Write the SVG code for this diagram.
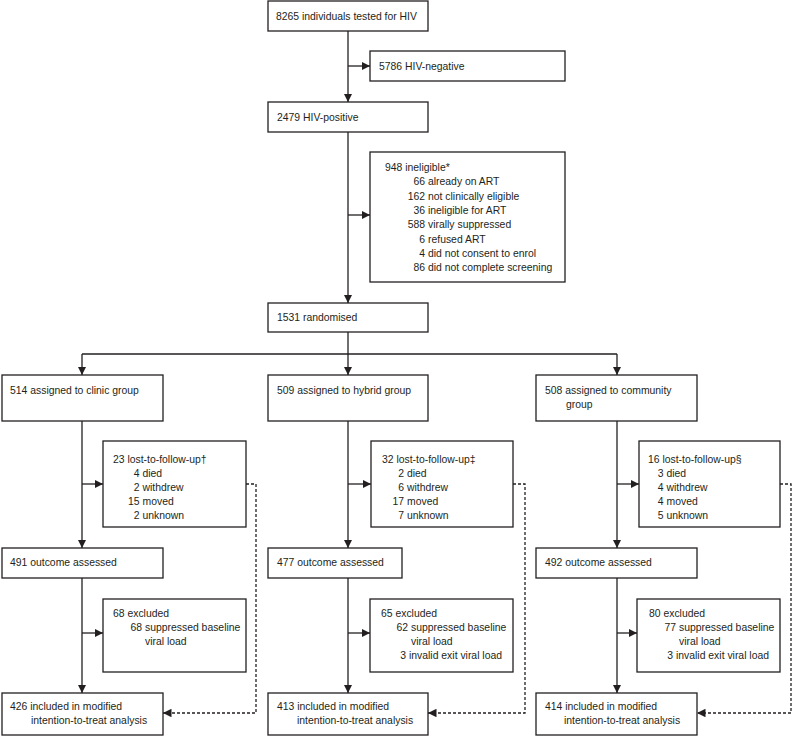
<svg xmlns="http://www.w3.org/2000/svg" width="793" height="737" viewBox="0 0 793 737">
<style>
.b{fill:#fff;stroke:#231f20;stroke-width:1.3}
.t{font-family:"Liberation Sans",Arial,sans-serif;font-size:10.4px;fill:#231f20}
.e{text-anchor:end}
.c{fill:none;stroke:#231f20;stroke-width:1.3}
.d{fill:none;stroke:#231f20;stroke-width:1.3;stroke-dasharray:3 2}
</style>
<defs>
<marker id="ah" viewBox="0 0 10 10" refX="10" refY="5" markerWidth="8.5" markerHeight="8.5" markerUnits="userSpaceOnUse" orient="auto">
<path d="M0,0 L10,5 L0,10 z" fill="#231f20"/>
</marker>
</defs>
<rect width="793" height="737" fill="#fff"/>
<g id="connectors">
<path class="c" d="M348,31 V102" marker-end="url(#ah)"/>
<path class="c" d="M348,66 H370" marker-end="url(#ah)"/>
<path class="c" d="M348,132 V303" marker-end="url(#ah)"/>
<path class="c" d="M348,215 H370" marker-end="url(#ah)"/>
<path class="c" d="M348,332 V354"/>
<path class="c" d="M82,354 H617"/>
<path class="c" d="M82,354 V375" marker-end="url(#ah)"/>
<path class="c" d="M348,354 V375" marker-end="url(#ah)"/>
<path class="c" d="M617,354 V375" marker-end="url(#ah)"/>
<path class="c" d="M82,421 V548" marker-end="url(#ah)"/>
<path class="c" d="M348,421 V548" marker-end="url(#ah)"/>
<path class="c" d="M617,421 V548" marker-end="url(#ah)"/>
<path class="c" d="M82,484 H103" marker-end="url(#ah)"/>
<path class="c" d="M348,484 H371" marker-end="url(#ah)"/>
<path class="c" d="M617,484 H639" marker-end="url(#ah)"/>
<path class="c" d="M82,578 V693" marker-end="url(#ah)"/>
<path class="c" d="M348,578 V693" marker-end="url(#ah)"/>
<path class="c" d="M617,578 V693" marker-end="url(#ah)"/>
<path class="c" d="M82,633 H103" marker-end="url(#ah)"/>
<path class="c" d="M348,633 H370" marker-end="url(#ah)"/>
<path class="c" d="M617,633 H637" marker-end="url(#ah)"/>
<path class="d" d="M246,484 H256 V713 H163" marker-end="url(#ah)"/>
<path class="d" d="M513,484 H525 V713 H428" marker-end="url(#ah)"/>
<path class="d" d="M780,484 H791 V713 H697" marker-end="url(#ah)"/>
</g>
<g id="tested">
<rect class="b" x="268" y="1" width="160" height="30"/>
<text class="t" x="276" y="20">8265 individuals tested for HIV</text>
</g>
<g id="negative">
<rect class="b" x="370" y="51" width="195" height="30"/>
<text class="t" x="379" y="70">5786 HIV-negative</text>
</g>
<g id="positive">
<rect class="b" x="268" y="102" width="160" height="30"/>
<text class="t" x="277" y="121">2479 HIV-positive</text>
</g>
<g id="ineligible">
<rect class="b" x="370" y="152" width="195" height="130"/>
<text class="t" x="385" y="171">948 ineligible*</text>
<text class="t e" x="425" y="185">66</text><text class="t" x="428" y="185">already on ART</text>
<text class="t e" x="425" y="199.5">162</text><text class="t" x="428" y="199.5">not clinically eligible</text>
<text class="t e" x="425" y="214">36</text><text class="t" x="428" y="214">ineligible for ART</text>
<text class="t e" x="425" y="228">588</text><text class="t" x="428" y="228">virally suppressed</text>
<text class="t e" x="425" y="242.5">6</text><text class="t" x="428" y="242.5">refused ART</text>
<text class="t e" x="425" y="257">4</text><text class="t" x="428" y="257">did not consent to enrol</text>
<text class="t e" x="425" y="271">86</text><text class="t" x="428" y="271">did not complete screening</text>
</g>
<g id="randomised">
<rect class="b" x="268" y="303" width="160" height="29"/>
<text class="t" x="277" y="321">1531 randomised</text>
</g>
<g id="clinic">
<rect class="b" x="2" y="375" width="161" height="46"/>
<text class="t" x="10" y="394">514 assigned to clinic group</text>
</g>
<g id="hybrid">
<rect class="b" x="268" y="375" width="160" height="46"/>
<text class="t" x="277" y="394">509 assigned to hybrid group</text>
</g>
<g id="community">
<rect class="b" x="536" y="375" width="161" height="46"/>
<text class="t" x="545" y="394">508 assigned to community</text>
<text class="t" x="566" y="408">group</text>
</g>
<g id="ltfu-clinic">
<rect class="b" x="103" y="441" width="143" height="86"/>
<text class="t" x="113" y="463">23 lost-to-follow-up†</text>
<text class="t e" x="139.5" y="477">4</text><text class="t" x="142.5" y="477">died</text>
<text class="t e" x="139.5" y="491">2</text><text class="t" x="142.5" y="491">withdrew</text>
<text class="t e" x="139.5" y="505">15</text><text class="t" x="142.5" y="505">moved</text>
<text class="t e" x="139.5" y="519">2</text><text class="t" x="142.5" y="519">unknown</text>
</g>
<g id="ltfu-hybrid">
<rect class="b" x="371" y="441" width="142" height="86"/>
<text class="t" x="382" y="463">32 lost-to-follow-up‡</text>
<text class="t e" x="404" y="477">2</text><text class="t" x="407" y="477">died</text>
<text class="t e" x="404" y="491">6</text><text class="t" x="407" y="491">withdrew</text>
<text class="t e" x="404" y="505">17</text><text class="t" x="407" y="505">moved</text>
<text class="t e" x="404" y="519">7</text><text class="t" x="407" y="519">unknown</text>
</g>
<g id="ltfu-community">
<rect class="b" x="639" y="441" width="141" height="86"/>
<text class="t" x="648" y="463">16 lost-to-follow-up§</text>
<text class="t e" x="663.5" y="477">3</text><text class="t" x="666.5" y="477">died</text>
<text class="t e" x="663.5" y="491">4</text><text class="t" x="666.5" y="491">withdrew</text>
<text class="t e" x="663.5" y="505">4</text><text class="t" x="666.5" y="505">moved</text>
<text class="t e" x="663.5" y="519">5</text><text class="t" x="666.5" y="519">unknown</text>
</g>
<g id="outcome-clinic">
<rect class="b" x="2" y="548" width="161" height="30"/>
<text class="t" x="10" y="566">491 outcome assessed</text>
</g>
<g id="outcome-hybrid">
<rect class="b" x="268" y="548" width="134" height="30"/>
<text class="t" x="277" y="566">477 outcome assessed</text>
</g>
<g id="outcome-community">
<rect class="b" x="536" y="548" width="161" height="30"/>
<text class="t" x="545" y="566">492 outcome assessed</text>
</g>
<g id="excluded-clinic">
<rect class="b" x="103" y="599" width="143" height="73"/>
<text class="t" x="113" y="617">68 excluded</text>
<text class="t e" x="142" y="631">68</text><text class="t" x="145" y="631">suppressed baseline</text>
<text class="t" x="145" y="645">viral load</text>
</g>
<g id="excluded-hybrid">
<rect class="b" x="370" y="599" width="143" height="73"/>
<text class="t" x="381" y="617">65 excluded</text>
<text class="t e" x="408" y="631">62</text><text class="t" x="411" y="631">suppressed baseline</text>
<text class="t" x="411" y="645">viral load</text>
<text class="t e" x="406" y="659">3</text><text class="t" x="409" y="659">invalid exit viral load</text>
</g>
<g id="excluded-community">
<rect class="b" x="637" y="599" width="143" height="73"/>
<text class="t" x="649" y="617">80 excluded</text>
<text class="t e" x="676" y="631">77</text><text class="t" x="679" y="631">suppressed baseline</text>
<text class="t" x="679" y="645">viral load</text>
<text class="t e" x="673" y="659">3</text><text class="t" x="676" y="659">invalid exit viral load</text>
</g>
<g id="final-clinic">
<rect class="b" x="2" y="693" width="161" height="42"/>
<text class="t" x="10" y="710">426 included in modified</text>
<text class="t" x="31" y="724">intention-to-treat analysis</text>
</g>
<g id="final-hybrid">
<rect class="b" x="268" y="693" width="160" height="42"/>
<text class="t" x="277" y="710">413 included in modified</text>
<text class="t" x="297" y="724">intention-to-treat analysis</text>
</g>
<g id="final-community">
<rect class="b" x="536" y="693" width="161" height="42"/>
<text class="t" x="545" y="710">414 included in modified</text>
<text class="t" x="564" y="724">intention-to-treat analysis</text>
</g>
</svg>
